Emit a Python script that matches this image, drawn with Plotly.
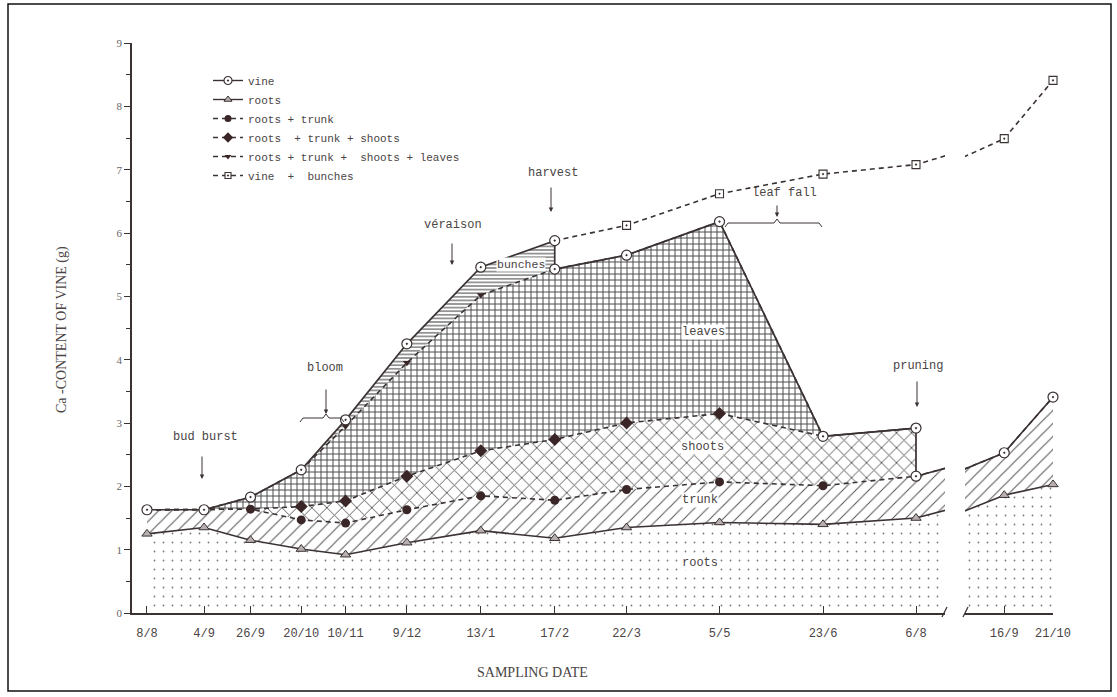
import plotly.graph_objects as go

W, H = 1117, 697

# ---------------------------------------------------------------- data
sample_dates = ["1979-08-08", "1979-09-04", "1979-09-26", "1979-10-20", "1979-11-10",
                "1979-12-09", "1980-01-13", "1980-02-17", "1980-03-22", "1980-05-05",
                "1980-06-23", "1980-08-06", "1980-09-16", "1980-10-21"]
date_labels = ["8/8", "4/9", "26/9", "20/10", "10/11", "9/12", "13/1", "17/2",
               "22/3", "5/5", "23/6", "6/8", "16/9", "21/10"]

# Ca content (g) of the cumulative plant parts
roots = [1.25, 1.35, 1.15, 1.01, 0.92, 1.11, 1.30, 1.18, 1.35, 1.43, 1.40, 1.50, 1.86, 2.03]
roots_trunk = [1.63, 1.63, 1.64, 1.47, 1.42, 1.63, 1.85, 1.78, 1.95, 2.07, 2.01, 2.16, 2.53, 3.41]
roots_trunk_shoots = [1.63, 1.63, 1.64, 1.68, 1.77, 2.16, 2.56, 2.74, 3.00, 3.15, 2.79, 2.92, None, None]
roots_trunk_shoots_leaves = [1.63, 1.63, 1.83, 2.26, 2.95, 3.95, 5.02, 5.43, 5.65, 6.18, 2.79, 2.92, None, None]
vine = [1.63, 1.63, 1.83, 2.26, 3.05, 4.25, 5.46, 5.43, 5.65, 6.18, 2.79, 2.16, 2.53, 3.41]
vine_bunches = [None, None, None, None, None, None, None, 5.88, 6.12, 6.62, 6.93, 7.08, 7.49, 8.41]

# vine just before the harvest (17/2) and before pruning (6/8)
HARVEST, PRUNING = 7, 11
vine_before_harvest = 5.88
vine_before_pruning = 2.92

# ---------------------------------------------------------------- style
INK = "#3b3232"
TXT = "#4a4444"
MONO = "Liberation Mono"
SERIF = "Liberation Serif"


def px(x):
    return x / W


def py(y):
    return 1 - y / H


vine_pre = [None] * len(vine)
vine_pre[HARVEST] = vine_before_harvest
vine_pre[PRUNING] = vine_before_pruning
vine_top = [p if p is not None else v for p, v in zip(vine_pre, vine)]


def vine_path(idx):
    xs, ys = [], []
    for i in idx:
        if vine_pre[i] is not None and i != idx[0]:
            xs.append(sample_dates[i])
            ys.append(vine_pre[i])
        xs.append(sample_dates[i])
        ys.append(vine[i])
    return xs, ys


def band(idx, upper, lower):
    keep = [i for i in idx if upper[i] is not None and (lower is None or lower[i] is not None)]
    xs = [sample_dates[i] for i in keep]
    up = [upper[i] for i in keep]
    lo = [0.0] * len(keep) if lower is None else [lower[i] for i in keep]
    return xs + xs[::-1], up + lo[::-1]


def own_points(values, *others):
    idx = []
    for i, v in enumerate(values):
        if v is None:
            continue
        if any(o[i] is not None and abs(o[i] - v) < 1e-9 for o in others):
            continue
        idx.append(i)
    return idx


SEG1 = list(range(0, 13))   # drawn up to the axis break (16/9 is clipped)
SEG2 = list(range(11, 14))  # resumes after the break
AX = {1: dict(xaxis="x", yaxis="y"), 2: dict(xaxis="x2", yaxis="y2")}

fig = go.Figure()

# ---------------------------------------------------------------- hatched areas
patterns = [
    # (upper, lower, shape, size, solidity, colour, segments)
    (roots, None, ".", 9, 0.03, "#777", (1, 2)),
    (roots_trunk, roots, "/", 9.2, 0.11, "#555", (1, 2)),
    (roots_trunk_shoots, roots_trunk, "x", 10.6, 0.17, "#555", (1,)),
    (roots_trunk_shoots_leaves, roots_trunk_shoots, "+", 6, 0.3, "#4a4a4a", (1,)),
    (vine_top[:HARVEST + 1] + [None] * (len(vine) - HARVEST - 1),
     roots_trunk_shoots_leaves, "-", 3.6, 0.3, "#4a4a4a", (1,)),
]
for upper, lower, shape, size, solid, col, segs in patterns:
    for s in segs:
        xs, ys = band(SEG1 if s == 1 else SEG2, upper, lower)
        fig.add_trace(go.Scatter(
            x=xs, y=ys, mode="lines", fill="toself", line=dict(width=0),
            fillcolor="rgba(255,255,255,0)",
            fillpattern=dict(shape=shape, size=size, solidity=solid, fgcolor=col,
                             bgcolor="rgba(255,255,255,0)"),
            hoverinfo="skip", showlegend=False, **AX[s]))

# ---------------------------------------------------------------- lines
DASH = "5px,4px"
dashed_series = [roots_trunk, roots_trunk_shoots, roots_trunk_shoots_leaves, vine_bunches]
for series in dashed_series:
    for s in (1, 2):
        idx = [i for i in (SEG1 if s == 1 else SEG2) if series[i] is not None]
        if len(idx) < 2:
            continue
        fig.add_trace(go.Scatter(
            x=[sample_dates[i] for i in idx], y=[series[i] for i in idx], mode="lines",
            line=dict(color=INK, width=1.6, dash=DASH), hoverinfo="skip",
            showlegend=False, **AX[s]))

for s in (1, 2):
    idx = SEG1 if s == 1 else SEG2
    fig.add_trace(go.Scatter(
        x=[sample_dates[i] for i in idx], y=[roots[i] for i in idx], mode="lines",
        line=dict(color=INK, width=1.6), hoverinfo="skip", showlegend=False, **AX[s]))
    vx, vy = vine_path(idx)
    fig.add_trace(go.Scatter(
        x=vx, y=vy, mode="lines", line=dict(color=INK, width=1.7),
        hoverinfo="skip", showlegend=False, **AX[s]))

# ---------------------------------------------------------------- markers
MARK = {
    "vine": dict(symbol="circle-dot", size=10, color="white", line=dict(color=INK, width=1.2)),
    "roots": dict(symbol="triangle-up", size=9, color="#b8b0b0", line=dict(color=INK, width=1)),
    "rt": dict(symbol="circle", size=9, color="#3a2626", line=dict(width=0)),
    "rts": dict(symbol="diamond", size=10, color="#3a2626", line=dict(width=0)),
    "rtsl": dict(symbol="triangle-down", size=7, color="#3a2626", line=dict(width=0)),
    "vb": dict(symbol="square-dot", size=8, color="white", line=dict(color=INK, width=1.1)),
}

marker_sets = [
    ("roots", roots, own_points(roots)),
    ("rt", roots_trunk, own_points(roots_trunk, vine)),
    ("rts", roots_trunk_shoots, own_points(roots_trunk_shoots, roots_trunk, vine, vine_pre)),
    ("rtsl", roots_trunk_shoots_leaves,
     own_points(roots_trunk_shoots_leaves, roots_trunk_shoots, vine, vine_pre)),
    ("vb", vine_bunches, own_points(vine_bunches, vine_pre)),
    ("vine", vine, list(range(len(vine)))),
    ("vine", vine_pre, [i for i, v in enumerate(vine_pre) if v is not None]),
]
for key, series, idx in marker_sets:
    for s, seg in ((1, range(0, 12)), (2, range(12, 14))):
        pts = [i for i in idx if i in seg]
        if not pts:
            continue
        fig.add_trace(go.Scatter(
            x=[sample_dates[i] for i in pts], y=[series[i] for i in pts], mode="markers",
            marker=MARK[key], cliponaxis=False, hoverinfo="skip", showlegend=False, **AX[s]))

# ---------------------------------------------------------------- legend entries
legend_rows = [
    ("vine", "vine", "solid"),
    ("roots", "roots", "solid"),
    ("roots + trunk", "rt", DASH),
    ("roots  + trunk + shoots", "rts", DASH),
    ("roots + trunk +  shoots + leaves", "rtsl", DASH),
    ("vine  +  bunches", "vb", DASH),
]
for name, key, dash in legend_rows:
    m = dict(MARK[key])
    m["size"] = max(m["size"] - 2, 6)
    fig.add_trace(go.Scatter(
        x=[None], y=[None], mode="lines+markers", name=name,
        line=dict(color=INK, width=1.4, dash=dash), marker=m))

# ---------------------------------------------------------------- annotations
ann = []


def label(text, x, y, size=12, bg=None, font=MONO, **kw):
    d = dict(text=text, x=px(x), y=py(y), xref="paper", yref="paper", showarrow=False,
             xanchor="center", yanchor="middle",
             font=dict(family=font, size=size, color=TXT))
    if bg:
        d.update(bgcolor=bg, borderpad=0)
    d.update(kw)
    ann.append(d)


def arrow(x, y0, y1):
    ann.append(dict(x=px(x), y=py(y1), ax=0, ay=-(y1 - y0), xref="paper", yref="paper",
                    axref="pixel", ayref="pixel", text="", showarrow=True,
                    arrowhead=2, arrowsize=0.9, arrowwidth=1, arrowcolor=INK))


label("bud burst", 205, 437)
arrow(202, 455, 479)
label("bloom", 325, 368)
arrow(326, 388, 414)
label("véraison", 453, 225)
arrow(452, 242, 265)
label("harvest", 553, 173)
arrow(551, 186, 212)
label("leaf fall", 784, 193)
arrow(777, 204, 217)
label("pruning", 918, 366)
arrow(917, 380, 407)

label("leaves", 703, 332, bg="white")
label("shoots", 702, 447, bg="white")
label("trunk", 700, 500, bg="white")
label("roots", 700, 563, bg="white")
label("bunches", 521, 265, bg="white", size=11.5)

label("Ca -CONTENT OF VINE (g)", 62, 330, size=14, font=SERIF, textangle=-90)
label("SAMPLING DATE", 532, 672, size=14, font=SERIF)

shapes = [
    # outer frame
    dict(type="rect", xref="paper", yref="paper", x0=px(8), x1=px(1111), y0=py(691), y1=py(4),
         line=dict(color="#111", width=1.5)),
    # axis break marks
    dict(type="line", xref="paper", yref="paper", x0=px(942), y0=py(617), x1=px(947), y1=py(607),
         line=dict(color=INK, width=1.3)),
    dict(type="line", xref="paper", yref="paper", x0=px(963), y0=py(617), x1=px(968), y1=py(607),
         line=dict(color=INK, width=1.3)),
]


def brace(x0, x1, xm, y):
    return ("M{},{} L{},{} L{},{} L{},{} L{},{} L{},{} L{},{}".format(
        px(x0), py(y + 4), px(x0 + 3), py(y), px(xm - 3), py(y), px(xm), py(y - 4),
        px(xm + 3), py(y), px(x1 - 3), py(y), px(x1), py(y + 4)))


shapes.append(dict(type="path", xref="paper", yref="paper", path=brace(300, 344, 326, 418),
                   line=dict(color=INK, width=1)))
shapes.append(dict(type="path", xref="paper", yref="paper", path=brace(725, 822, 777, 223),
                   line=dict(color=INK, width=1)))

# ---------------------------------------------------------------- axes
seg1_ticks = list(range(0, 12))
seg2_ticks = [12, 13]
xcommon = dict(type="date", showgrid=False, zeroline=False, showline=True, linecolor=INK,
               linewidth=1.5, ticks="inside", ticklen=7, tickwidth=1.2, tickcolor=INK,
               tickfont=dict(family=MONO, size=12, color=TXT), ticklabelstandoff=8,
               automargin=False, fixedrange=True)

fig.update_layout(
    width=W, height=H, template="none",
    margin=dict(l=0, r=0, t=0, b=0),
    paper_bgcolor="white", plot_bgcolor="rgba(0,0,0,0)",
    xaxis=dict(domain=[px(132), px(945)], anchor="y",
               range=["1979-07-31 21:40", "1980-08-19 17:30"],
               tickvals=[sample_dates[i] for i in seg1_ticks],
               ticktext=[date_labels[i] for i in seg1_ticks], **xcommon),
    xaxis2=dict(domain=[px(965), px(1053)], anchor="y2",
                range=["1980-08-18 20:00", "1980-10-21"],
                tickvals=[sample_dates[i] for i in seg2_ticks],
                ticktext=[date_labels[i] for i in seg2_ticks], **xcommon),
    yaxis=dict(domain=[py(613), py(43)], range=[0, 9], anchor="x", showgrid=False,
               zeroline=False, showline=True, linecolor=INK, linewidth=1.5,
               tickvals=list(range(10)), ticks="outside", ticklen=6, tickwidth=1.2,
               tickcolor=INK, tickfont=dict(family=SERIF, size=11, color="#666"),
               minor=dict(dtick=0.5, tick0=0, ticks="outside", ticklen=4, tickcolor=INK),
               automargin=False, fixedrange=True),
    yaxis2=dict(domain=[py(613), py(43)], range=[0, 9], anchor="x2", visible=False,
                fixedrange=True),
    showlegend=True,
    legend=dict(x=px(208), y=py(66), xanchor="left", yanchor="top",
                bgcolor="rgba(255,255,255,0)", borderwidth=0, tracegroupgap=0,
                itemwidth=30, font=dict(family=MONO, size=11, color=TXT)),
    annotations=ann, shapes=shapes,
)

fig.write_html("out.html")
